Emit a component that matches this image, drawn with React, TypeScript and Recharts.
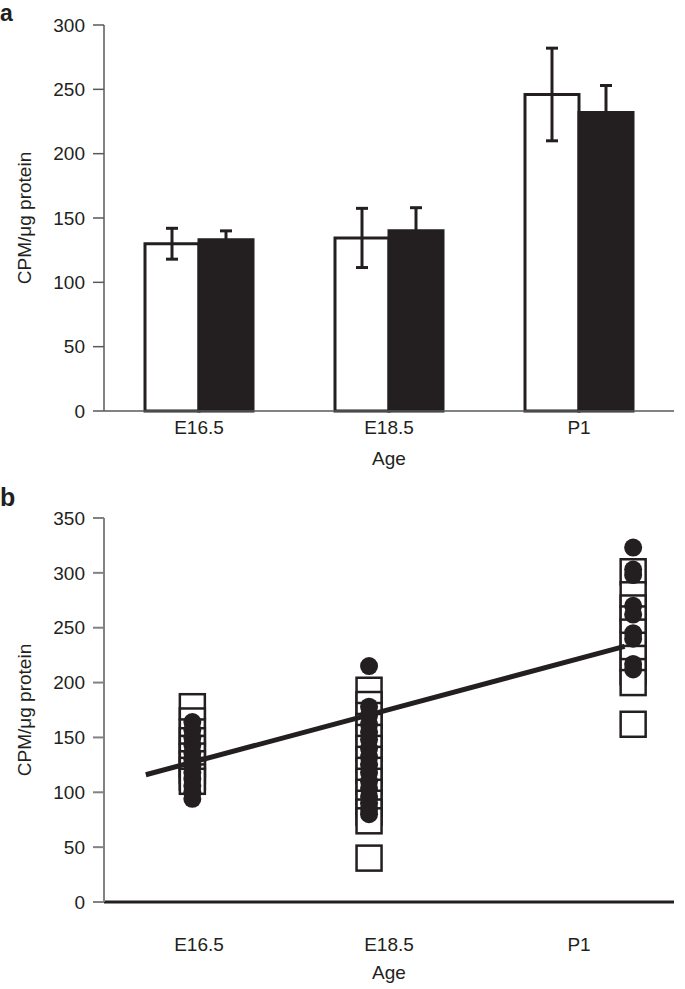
import React from "react";
import {
  BarChart,
  Bar,
  XAxis,
  YAxis,
  ErrorBar,
  ComposedChart,
  Scatter,
  Label,
} from "recharts";

// ---------- data ----------
const ages = ["E16.5", "E18.5", "P1"];

// panel a: mean CPM/µg protein with error
const whiteMeans = [130, 134.5, 246];
const whiteErrors = [12, 23, 36];
const blackMeans = [133, 140, 232];
const blackErrors = [7, 18, 21];
const barTicks = [0, 50, 100, 150, 200, 250, 300];

// panel b: individual values
const agePositions = [1, 2, 3];
const columnX = [0.965, 1.895, 3.285];
const squaresE165 = [178, 165, 155, 147, 140, 133, 126, 120, 114, 110];
const circlesE165 = [164, 157, 150, 143, 136, 130, 124, 118, 112, 106, 100, 94];
const squaresE185 = [193, 180, 170, 160, 150, 140, 130, 120, 110, 100, 90, 82, 74, 40];
const circlesE185 = [215, 178, 170, 162, 155, 148, 140, 132, 125, 118, 110, 103, 96, 90, 85, 80];
const squaresP1 = [301, 280, 268, 258, 246, 234, 222, 210, 200, 162];
const circlesP1 = [323, 303, 298, 270, 262, 245, 240, 217, 212];
const fitLineX = [0.72, 3.24];
const fitLineY = [116, 233];
const scatterTicks = [0, 50, 100, 150, 200, 250, 300, 350];

// ---------- derived tables ----------
const barData = ages.map((age, i) => ({
  age,
  white: whiteMeans[i],
  whiteErr: whiteErrors[i],
  black: blackMeans[i],
  blackErr: blackErrors[i],
}));

const squareGroups = [squaresE165, squaresE185, squaresP1];
const circleGroups = [circlesE165, circlesE185, circlesP1];
const squareData = squareGroups.flatMap((vals, i) =>
  vals.map((y) => ({ x: columnX[i], y }))
);
const circleData = circleGroups.flatMap((vals, i) =>
  vals.map((y) => ({ x: columnX[i], y }))
);
const lineData = fitLineX.map((x, i) => ({ x, y: fitLineY[i] }));

// ---------- styles ----------
const INK = "#231f20";
const FONT = "'Liberation Sans', Arial, Helvetica, sans-serif";
const FS = 19;
const tickStyle = { fill: INK, fontSize: FS, fontFamily: FONT };

const YLabel = (props: any) => {
  const vb = props.viewBox || { x: 0, y: 0, width: 0, height: 0 };
  const cy = vb.y + vb.height / 2;
  return (
    <text
      x={0}
      y={0}
      transform={`translate(24, ${cy}) rotate(-90)`}
      textAnchor="middle"
      dominantBaseline="central"
      fill={INK}
      fontSize={FS}
      fontFamily={FONT}
    >
      CPM/μg protein
    </text>
  );
};

const SquareShape = (props: any) => {
  const { cx, cy } = props;
  if (cx == null || cy == null) return <g />;
  const s = 25;
  return (
    <rect
      x={cx - s / 2}
      y={cy - s / 2}
      width={s}
      height={s}
      fill="#ffffff"
      stroke={INK}
      strokeWidth={2.5}
    />
  );
};

const CircleShape = (props: any) => {
  const { cx, cy } = props;
  if (cx == null || cy == null) return <g />;
  return <circle cx={cx} cy={cy} r={9} fill={INK} />;
};

const NoShape = () => <g />;

export default function App() {
  return (
    <div
      style={{
        position: "absolute",
        left: 0,
        top: 0,
        width: 685,
        height: 989,
        background: "#fff",
        fontFamily: FONT,
      }}
    >
      <div style={{ position: "absolute", left: 0, top: 0 }}>
        <BarChart
          width={685}
          height={480}
          data={barData}
          margin={{ top: 25, right: 11, bottom: 0, left: 0 }}
          barGap={0}
          barSize={54}
        >
          <XAxis
            dataKey="age"
            tickLine={false}
            axisLine={{ stroke: "#58595b", strokeWidth: 1.5 }}
            tick={tickStyle}
            tickSize={6}
            tickMargin={4}
            height={69}
            interval={0}
          >
            <Label
              value="Age"
              position="insideBottom"
              offset={15}
              fill={INK}
              fontSize={FS}
              fontFamily={FONT}
            />
          </XAxis>
          <YAxis
            domain={[0, 300]}
            ticks={barTicks}
            width={104}
            tickSize={11}
            tickMargin={8}
            axisLine={{ stroke: "#58595b", strokeWidth: 1.5 }}
            tickLine={{ stroke: "#58595b", strokeWidth: 1.5 }}
            tick={tickStyle}
            interval={0}
          >
            <Label content={YLabel} />
          </YAxis>
          <Bar
            dataKey="white"
            fill="#ffffff"
            stroke={INK}
            strokeWidth={3}
            isAnimationActive={false}
          >
            <ErrorBar dataKey="whiteErr" width={6} strokeWidth={3} stroke={INK} />
          </Bar>
          <Bar
            dataKey="black"
            fill={INK}
            stroke={INK}
            strokeWidth={3}
            isAnimationActive={false}
          >
            <ErrorBar dataKey="blackErr" width={6} strokeWidth={3} stroke={INK} />
          </Bar>
        </BarChart>
      </div>

      <div style={{ position: "absolute", left: 0, top: 480 }}>
        <ComposedChart
          width={685}
          height={509}
          margin={{ top: 38, right: 11, bottom: 0, left: 0 }}
        >
          <XAxis
            type="number"
            dataKey="x"
            domain={[0.5, 3.5]}
            ticks={agePositions}
            tickFormatter={(v: number) => ages[Math.round(v) - 1]}
            tickLine={false}
            axisLine={{ stroke: INK, strokeWidth: 3 }}
            tick={tickStyle}
            tickSize={6}
            tickMargin={30}
            height={87}
            interval={0}
            allowDataOverflow
          >
            <Label
              value="Age"
              position="insideBottom"
              offset={10}
              fill={INK}
              fontSize={FS}
              fontFamily={FONT}
            />
          </XAxis>
          <YAxis
            type="number"
            dataKey="y"
            domain={[0, 350]}
            ticks={scatterTicks}
            width={104}
            tickSize={11}
            tickMargin={8}
            axisLine={{ stroke: "#808285", strokeWidth: 2 }}
            tickLine={{ stroke: "#808285", strokeWidth: 2 }}
            tick={tickStyle}
            interval={0}
            allowDataOverflow
          >
            <Label content={YLabel} />
          </YAxis>
          <Scatter
            data={squareData}
            shape={SquareShape}
            isAnimationActive={false}
          />
          <Scatter
            data={circleData}
            shape={CircleShape}
            isAnimationActive={false}
          />
          <Scatter
            data={lineData}
            shape={NoShape}
            line={{ stroke: INK, strokeWidth: 5 }}
            isAnimationActive={false}
          />
        </ComposedChart>
      </div>

      <svg
        width={685}
        height={989}
        style={{ position: "absolute", left: 0, top: 0, pointerEvents: "none" }}
      >
        <text x={0} y={21} fontSize={23} fontWeight="bold" fill={INK} fontFamily={FONT}>
          a
        </text>
        <text x={0} y={506} fontSize={25} fontWeight="bold" fill={INK} fontFamily={FONT}>
          b
        </text>
      </svg>
    </div>
  );
}
